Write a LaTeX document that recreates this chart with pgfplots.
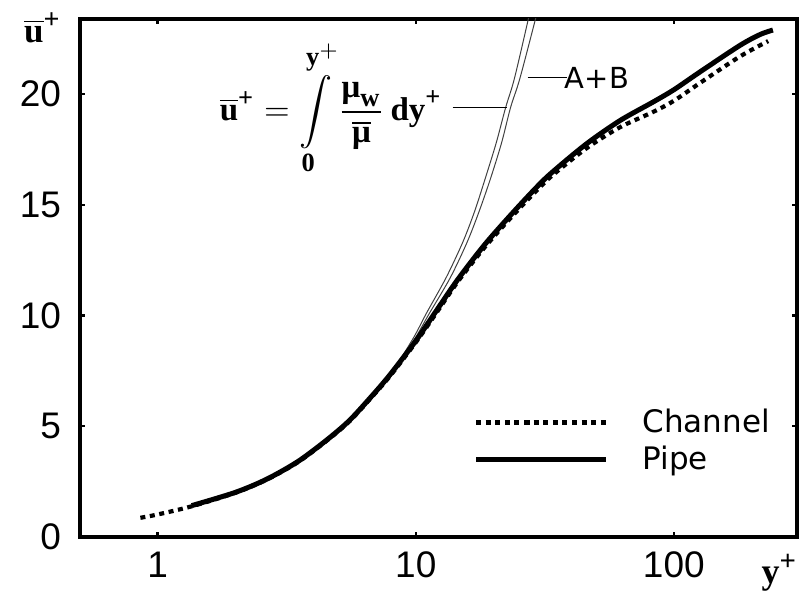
\documentclass[border=0pt]{standalone}
\usepackage{amsmath}
\usepackage{fontspec}
\setmainfont{Liberation Sans}
\newfontfamily\legfont{DejaVu Sans}
\newfontfamily\tb{Liberation Serif}
\usepackage{pgfplots}
\pgfplotsset{compat=1.18}
\newsavebox\formulabox
\newsavebox\ulabbox
\newsavebox\ylabbox
\newcommand\tbf[1]{\hbox{\tb\bfseries #1}}
\newcommand\tbs[1]{\hbox{\tb\bfseries\footnotesize #1}}

\pgfplotstableread{
x u
1.355 1.40
2.0 2.0
2.65 2.60
3.5 3.40
4.5 4.35
5.5 5.22
6.6 6.22
7.9 7.28
10.0 8.85
12.0 10.2
14.5 11.6
18.5 13.2
23.8 14.65
29.7 15.85
34.0 16.5
45.8 17.75
61.7 18.8
83.2 19.65
100 20.2
126 21.0
180 22.2
216 22.7
242 22.9
}\pipedata

\pgfplotstableread{
x u
0.857 0.85
1.0 1.0
1.355 1.37
2.0 1.98
2.65 2.58
3.5 3.37
4.5 4.32
5.5 5.18
6.6 6.18
7.9 7.22
10.0 8.78
12.0 10.1
14.5 11.5
18.5 13.08
23.8 14.52
29.7 15.7
34.0 16.35
45.8 17.55
61.7 18.5
83.2 19.2
100 19.7
126 20.5
180 21.7
232 22.4
}\channeldata

\pgfplotstableread{
x u
5.5 5.22
7.9 7.32
9.7 8.9
11.0 10.1
13.1 11.7
15.2 13.3
16.9 14.7
18.6 16.2
20.5 17.8
22.3 19.4
24.1 20.7
27.3 23.4
28.6 24.5
}\abone

\pgfplotstableread{
x u
5.5 5.22
7.9 7.28
9.8 8.85
11.3 10.1
13.6 11.7
15.8 13.3
17.6 14.7
19.5 16.2
21.5 17.8
23.3 19.4
25.3 20.7
29.1 23.4
30.7 24.5
}\abtwo

\begin{document}
\sbox\formulabox{$\overline{\tbf{u}}^{\tbs{+}} = \displaystyle\int\limits_{\tbs{0}}^{\tbs{y$^+$}}\frac{\tbf{μ}_{\tbs{w}}}{\overline{\tbf{μ}}}\,\tbf{dy}^{\tbs{+}}$}%
\sbox\ulabbox{$\overline{\tbf{u}}^{\tbs{+}}$}%
\sbox\ylabbox{$\tbf{y}^{\tbs{+}}$}%
\begin{tikzpicture}
\useasboundingbox (-40pt,-28.2pt) rectangle (362.5pt,268.3pt);
\begin{axis}[
    scale only axis,
    width=358.5pt, height=258.8pt,
    xmode=log,
    xmin=0.5, xmax=300,
    ymin=0, ymax=23.4,
    xtick={1,10,100}, xticklabels={1,10,100},
    ytick={0,5,10,15,20},
    xminorticks=false,
    /pgf/number format/assume math mode=true,
    tick label style={font=\fontsize{18.5}{20}\selectfont},
    xticklabel style={yshift=-4pt},
    yticklabel style={xshift=-6pt},
    axis line style={line width=2pt},
    major tick length=2.5pt,
    tick style={line width=1.2pt, black},
    legend style={draw=none, fill=none, at={(0.54,0.185)}, anchor=west,
        font=\legfont\fontsize{15.5}{19}\selectfont, column sep=15pt, row sep=1pt},
    legend cell align=left,
    legend image code/.code={\draw[#1] plot coordinates {(0pt,0pt) (65pt,0pt)};},
]
\addplot[black!75, line width=0.5pt, smooth, forget plot] table[x=x, y=u] {\abone};
\addplot[black!75, line width=0.5pt, smooth, forget plot] table[x=x, y=u] {\abtwo};
\addplot[black, line width=2.1pt, dash pattern=on 2.5pt off 2.3pt, smooth] table[x=x, y=u] {\channeldata};
\addlegendentry{Channel}
\addplot[black, line width=2.5pt, smooth] table[x=x, y=u] {\pipedata};
\addlegendentry{Pipe}
\coordinate (l1a) at (axis cs:13.9,19.4);
\coordinate (l1b) at (axis cs:22.5,19.4);
\coordinate (l2a) at (axis cs:27.1,20.74);
\coordinate (l2b) at (axis cs:38.4,20.74);
\coordinate (fpos) at (rel axis cs:0.506,0.828);
\coordinate (ylab) at (rel axis cs:-0.052,0.983);
\coordinate (xlab) at (rel axis cs:0.976,-0.070);
\end{axis}
\draw[black, line width=0.6pt] (l1a) -- (l1b);
\draw[black, line width=0.6pt] (l2a) -- (l2b);
\node[anchor=west, inner sep=0pt, xshift=-1pt] at (l2b) {\legfont\fontsize{14.5}{16}\selectfont A+B};
\node[anchor=east, inner sep=0pt, scale=1.65] at (fpos) {\usebox\formulabox};
\node[inner sep=0pt, scale=1.75] at (ylab) {\usebox\ulabbox};
\node[inner sep=0pt, scale=1.8] at (xlab) {\usebox\ylabbox};
\end{tikzpicture}
\end{document}
